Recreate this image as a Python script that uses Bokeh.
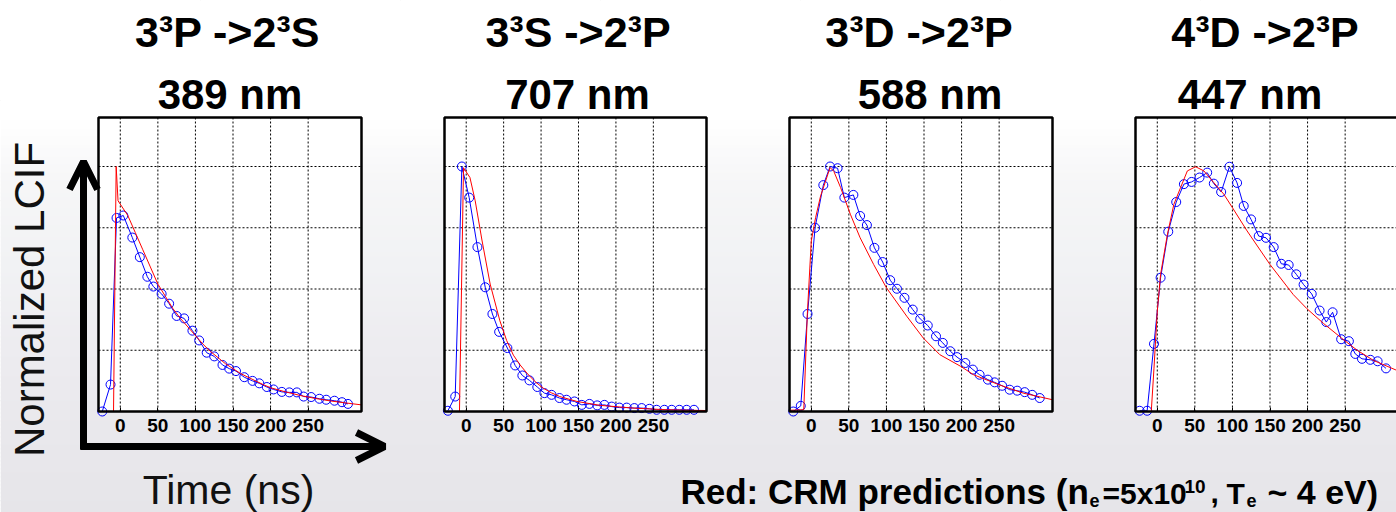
import numpy as np
from bokeh.plotting import figure
from bokeh.models import Range1d, LinearAxis, FixedTicker, Arrow, OpenHead
from bokeh.core.properties import value
from bokeh.embed import file_html
from bokeh.resources import INLINE

# ---------------------------------------------------------------- data
transitions = ["3³P ->2³S", "3³S ->2³P", "3³D ->2³P", "4³D ->2³P"]
wavelengths = ["389 nm", "707 nm", "588 nm", "447 nm"]
time_ticks = [0, 50, 100, 150, 200, 250]
lcif_gridlines = [0.25, 0.5, 0.75, 1.0]
time_limits = [-29, 321]
lcif_limits = [0.0, 1.2]

# 389 nm
t_meas_389 = [-24, -13, -5, 4, 16, 26, 36, 44, 55, 65, 75, 85, 96, 105, 115, 125, 136,
              145, 154, 165, 176, 185, 195, 204, 215, 225, 235, 244, 254, 265, 274, 285, 295, 303]
lcif_meas_389 = [0.00, 0.11, 0.79, 0.80, 0.71, 0.63, 0.55, 0.51, 0.48, 0.44, 0.39, 0.38, 0.33,
                 0.29, 0.24, 0.225, 0.19, 0.175, 0.165, 0.14, 0.125, 0.115, 0.10, 0.09, 0.08,
                 0.078, 0.078, 0.061, 0.059, 0.052, 0.048, 0.044, 0.038, 0.031]
t_crm_389 = [-29, -9, -5.5, -3, 10, 20, 30, 40, 50, 60, 70, 80, 90, 100, 110, 120, 130, 140,
             150, 160, 170, 180, 190, 200, 220, 240, 260, 280, 300, 321]
lcif_crm_389 = [0, 0, 1.0, 0.86, 0.80, 0.73, 0.66, 0.59, 0.52, 0.47, 0.42, 0.38, 0.345, 0.31,
                0.275, 0.245, 0.22, 0.195, 0.175, 0.155, 0.14, 0.125, 0.11, 0.097, 0.08, 0.065,
                0.053, 0.043, 0.035, 0.027]

# 707 nm
t_meas_707 = [-24.5, -14.7, -5.8, 4, 15, 25.4, 35, 44, 55, 65.4, 75, 84.5, 95, 104.5, 114,
              124.6, 134, 144.6, 154.4, 164.6, 175, 184.6, 194.4, 204.6, 214.4, 224.6, 234.4,
              244.7, 254.4, 264.7, 274.5, 284.7, 294.5, 304.3]
lcif_meas_707 = [0.003, 0.061, 1.0, 0.873, 0.671, 0.507, 0.398, 0.325, 0.259, 0.188, 0.147,
                 0.127, 0.10, 0.075, 0.068, 0.055, 0.048, 0.041, 0.027, 0.031, 0.025, 0.027,
                 0.020, 0.016, 0.016, 0.014, 0.014, 0.011, 0.007, 0.007, 0.007, 0.007, 0.007, 0.007]
t_crm_707 = [-29, -9, -3.6, 5, 12, 21, 32, 45, 54, 63, 72, 81, 92, 103, 114, 125, 148, 179,
             223, 268, 321]
lcif_crm_707 = [0, 0, 0.995, 0.955, 0.86, 0.70, 0.52, 0.37, 0.29, 0.23, 0.19, 0.157, 0.122,
                0.095, 0.076, 0.061, 0.041, 0.025, 0.014, 0.007, 0.004]

# 588 nm
t_meas_588 = [-24, -14, -5, 5, 16, 25, 35, 44, 56, 65, 74, 84, 95, 105, 114, 124, 135, 145,
              155, 166, 175, 185, 194, 205, 215, 224, 235, 244, 254, 264, 274, 284, 294, 304]
lcif_meas_588 = [0.0, 0.023, 0.398, 0.75, 0.924, 1.0, 0.993, 0.873, 0.884, 0.798, 0.761,
                 0.668, 0.61, 0.536, 0.501, 0.464, 0.416, 0.378, 0.351, 0.307, 0.28, 0.246,
                 0.222, 0.198, 0.171, 0.15, 0.13, 0.119, 0.105, 0.089, 0.085, 0.079, 0.068, 0.055]
t_crm_588 = [-29, -10, -5.3, 0, 5.7, 12.4, 19, 25, 30, 39, 52, 65, 83, 100, 127, 149, 171,
             199, 216, 250, 282, 321]
lcif_crm_588 = [0.005, 0.007, 0.396, 0.696, 0.791, 0.88, 0.94, 0.996, 0.98, 0.914, 0.805,
                0.709, 0.60, 0.505, 0.389, 0.30, 0.232, 0.184, 0.15, 0.109, 0.075, 0.048]

# 447 nm
t_meas_447 = [-23.5, -13.5, -4.4, 4.4, 14.6, 25.2, 35.4, 45.6, 56.2, 66.4, 75.2, 85, 96,
              106.2, 115, 124.8, 135, 144.7, 154.9, 165, 174.8, 185, 194.7, 205.5, 216,
              224.9, 233.3, 244.7, 255, 263.5, 272.4, 283.5, 293.2, 304.4]
lcif_meas_447 = [0.003, 0.003, 0.276, 0.546, 0.734, 0.855, 0.928, 0.937, 0.955, 0.975, 0.93,
                 0.896, 0.999, 0.933, 0.839, 0.784, 0.716, 0.709, 0.671, 0.603, 0.598, 0.56,
                 0.518, 0.48, 0.412, 0.365, 0.405, 0.295, 0.287, 0.235, 0.215, 0.211, 0.205, 0.176]
t_crm_447 = [-29, -8, -4.4, 0, 4.4, 13.3, 22, 31, 40, 51, 62, 75, 88.5, 100, 119.5, 150,
             181, 199, 221, 245, 266, 288, 321]
lcif_crm_447 = [0, 0, 0.177, 0.41, 0.56, 0.72, 0.845, 0.914, 0.982, 0.999, 0.982, 0.935,
                0.887, 0.832, 0.737, 0.60, 0.477, 0.42, 0.36, 0.30, 0.25, 0.208, 0.165]

measured = [(t_meas_389, lcif_meas_389), (t_meas_707, lcif_meas_707),
            (t_meas_588, lcif_meas_588), (t_meas_447, lcif_meas_447)]
predicted = [(t_crm_389, lcif_crm_389), (t_crm_707, lcif_crm_707),
             (t_crm_588, lcif_crm_588), (t_crm_447, lcif_crm_447)]

# ---------------------------------------------------------------- page layout
W, H = 1396, 512
FONT = "Liberation Sans"
frame_left = [98, 444, 789, 1135]
frame_right = [361, 706, 1052, 1398]
frame_top, frame_bottom = 117, 411
title_x = [227, 577.5, 918.5, 1264.5]
wave_x = [229.5, 577, 929.5, 1249.5]


def baseline_y(y, px):
    """Shift a wanted alphabetic baseline to where the text glyph places it."""
    return y - 0.37 * px


p = figure(width=W, height=H, x_range=Range1d(0, W), y_range=Range1d(H, 0),
           output_backend="svg", toolbar_location=None,
           x_axis_location=None, y_axis_location=None, min_border=0)
p.outline_line_color = None
p.background_fill_color = "white"
p.border_fill_color = "white"

# soft slide background: white on top fading into a pale grey haze
stops_y = [0, 115, 185, 265, 345, 430, 512]
stops_rgb = np.array([[255, 255, 255], [255, 255, 255], [246, 246, 247], [241, 242, 244],
                      [237, 236, 240], [233, 232, 236], [230, 229, 233]], dtype=float)
band = 4
band_top = np.arange(0, H, band)
rgb = np.column_stack([np.interp(band_top + band / 2, stops_y, stops_rgb[:, k])
                       for k in range(3)]).round().astype(int)
band_colors = ["#%02x%02x%02x" % tuple(c) for c in rgb]
p.quad(left=0, right=W, top=band_top, bottom=band_top + band + 1,
       fill_color=band_colors, line_color=None)

# per-panel coordinate systems mapped into the page
x_lo, x_hi = time_limits
y_lo, y_hi = lcif_limits
xr, yr = {}, {}
for i in range(4):
    L, R = frame_left[i], frame_right[i]
    sx = (x_hi - x_lo) / (R - L)
    xr[f"t{i}"] = Range1d(x_lo - L * sx, x_lo + (W - L) * sx)
    sy = (y_hi - y_lo) / (frame_bottom - frame_top)
    yr[f"v{i}"] = Range1d(y_lo - (H - frame_bottom) * sy, y_lo + frame_bottom * sy)
p.extra_x_ranges = xr
p.extra_y_ranges = yr

for i in range(4):
    rn = dict(x_range_name=f"t{i}", y_range_name=f"v{i}")
    p.quad(left=[x_lo], right=[x_hi], bottom=[y_lo], top=[y_hi],
           fill_color="white", line_color=None, **rn)
    p.segment(x0=time_ticks, y0=y_lo, x1=time_ticks, y1=y_hi,
              line_color="black", line_width=1, line_dash="2 2", **rn)
    p.segment(x0=x_lo, y0=lcif_gridlines, x1=x_hi, y1=lcif_gridlines,
              line_color="black", line_width=1, line_dash="2 2", **rn)

    t_m, v_m = measured[i]
    p.line(t_m, v_m, line_color="#0000ff", line_width=1, **rn)
    p.scatter(t_m, v_m, marker="circle", size=9, fill_color=None,
              line_color="#0000ff", line_width=1, **rn)
    t_c, v_c = predicted[i]
    p.line(t_c, v_c, line_color="#ff0000", line_width=1, **rn)

    p.quad(left=[x_lo], right=[x_hi], bottom=[y_lo], top=[y_hi],
           fill_color=None, line_color="black", line_width=2.5, **rn)

    ax = LinearAxis(fixed_location=y_lo, ticker=FixedTicker(ticks=time_ticks),
                    bounds=(x_lo, x_hi), axis_line_color=None,
                    major_tick_in=4, major_tick_out=0, major_tick_line_color="black",
                    minor_tick_line_color=None, major_label_standoff=7,
                    major_label_text_font=FONT, major_label_text_font_style="bold",
                    major_label_text_font_size="19px", major_label_text_color="black",
                    **rn)
    p.add_layout(ax, "below")

# panel headings
p.text(x=title_x, y=[baseline_y(47, 43)] * 4, text=transitions, text_font=value(FONT),
       text_font_style="bold", text_font_size=value("43px"), text_color="black",
       text_align="center", text_baseline="alphabetic")
p.text(x=wave_x, y=[baseline_y(110, 42)] * 4, text=wavelengths, text_font=value(FONT),
       text_font_style="bold", text_font_size=value("42px"), text_color="black",
       text_align="center", text_baseline="alphabetic")

# shared axis cues on the left
head_v = OpenHead(size=28, line_width=7, line_color="black")
head_h = OpenHead(size=28, line_width=7, line_color="black")
p.add_layout(Arrow(end=head_v, x_start=83, y_start=449, x_end=83, y_end=161,
                   line_width=7, line_color="black"))
p.add_layout(Arrow(end=head_h, x_start=80, y_start=446, x_end=384, y_end=446,
                   line_width=7, line_color="black"))
p.text(x=[45 - 0.37 * 42], y=[299], text=["Normalized LCIF"], angle=np.pi / 2,
       text_font=value(FONT), text_font_size=value("42px"), text_color="#111111",
       text_align="center", text_baseline="alphabetic")
p.text(x=[228], y=[baseline_y(505, 41)], text=["Time (ns)"], text_font=value(FONT),
       text_font_size=value("41px"), text_color="#111111",
       text_align="center", text_baseline="alphabetic")

# model annotation with sub/superscripts
note_text = ["Red: CRM predictions (n", "e", "=5x10", "10", ",", "T", "e", "~ 4 eV)"]
note_x = [680, 1089, 1102, 1184, 1210, 1226, 1246, 1267]
note_base = [504, 507, 504, 493, 504, 504, 507, 504]
note_px = [35, 18, 30, 19, 30, 30, 18, 34]
note_y = [baseline_y(b, s) for b, s in zip(note_base, note_px)]
note_size = [f"{s}px" for s in note_px]
p.text(x=note_x, y=note_y, text=note_text, text_font=value(FONT), text_font_style="bold",
       text_font_size=note_size, text_color="black", text_align="left",
       text_baseline="alphabetic")

open("out.html", "w").write(file_html(p, INLINE))
